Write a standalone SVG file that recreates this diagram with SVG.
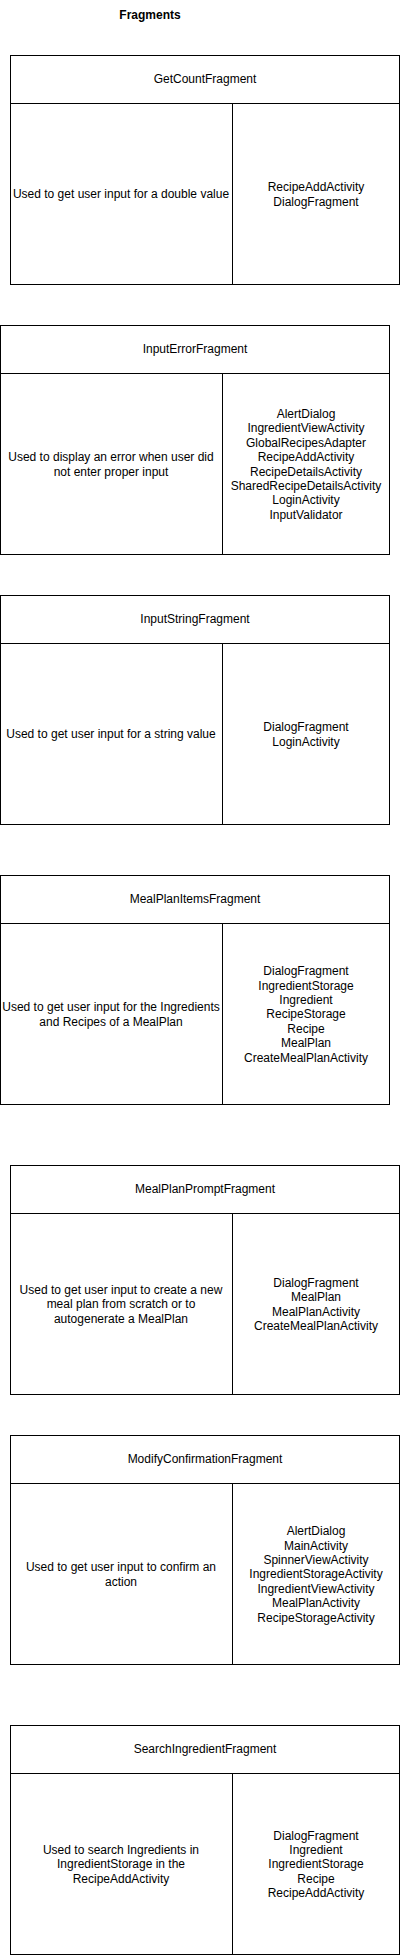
<svg xmlns="http://www.w3.org/2000/svg" width="401" height="1956" viewBox="0 0 401 1956">
<style>
.b{fill:#fff;stroke:#000;stroke-width:1}
.l{stroke:#000;stroke-width:1;fill:none}
text{font-family:"Liberation Sans",Arial,sans-serif;font-size:12px;fill:#000;text-anchor:middle}
.t{font-weight:bold}
</style>
<rect width="401" height="1956" fill="#fff"/>
<text class="t" x="150" y="19">Fragments</text>

<g id="GetCountFragment">
<rect class="b" x="10.5" y="55.5" width="389" height="229"/>
<line class="l" x1="10.5" y1="103.5" x2="399.5" y2="103.5"/>
<line class="l" x1="232.5" y1="103.5" x2="232.5" y2="284.5"/>
<text x="205" y="83.3">GetCountFragment</text>
<text x="121" y="198.3">Used to get user input for a double value</text>
<text y="191.1"><tspan x="316">RecipeAddActivity</tspan><tspan x="316" dy="14.4">DialogFragment</tspan></text>
</g>

<g id="InputErrorFragment">
<rect class="b" x="0.5" y="325.5" width="389" height="229"/>
<line class="l" x1="0.5" y1="373.5" x2="389.5" y2="373.5"/>
<line class="l" x1="222.5" y1="373.5" x2="222.5" y2="554.5"/>
<text x="195" y="353.3">InputErrorFragment</text>
<text y="461.1"><tspan x="111">Used to display an error when user did</tspan><tspan x="111" dy="14.4">not enter proper input</tspan></text>
<text y="417.9"><tspan x="306">AlertDialog</tspan><tspan x="306" dy="14.4">IngredientViewActivity</tspan><tspan x="306" dy="14.4">GlobalRecipesAdapter</tspan><tspan x="306" dy="14.4">RecipeAddActivity</tspan><tspan x="306" dy="14.4">RecipeDetailsActivity</tspan><tspan x="306" dy="14.4">SharedRecipeDetailsActivity</tspan><tspan x="306" dy="14.4">LoginActivity</tspan><tspan x="306" dy="14.4">InputValidator</tspan></text>
</g>

<g id="InputStringFragment">
<rect class="b" x="0.5" y="595.5" width="389" height="229"/>
<line class="l" x1="0.5" y1="643.5" x2="389.5" y2="643.5"/>
<line class="l" x1="222.5" y1="643.5" x2="222.5" y2="824.5"/>
<text x="195" y="623.3">InputStringFragment</text>
<text x="111" y="738.3">Used to get user input for a string value</text>
<text y="731.1"><tspan x="306">DialogFragment</tspan><tspan x="306" dy="14.4">LoginActivity</tspan></text>
</g>

<g id="MealPlanItemsFragment">
<rect class="b" x="0.5" y="875.5" width="389" height="229"/>
<line class="l" x1="0.5" y1="923.5" x2="389.5" y2="923.5"/>
<line class="l" x1="222.5" y1="923.5" x2="222.5" y2="1104.5"/>
<text x="195" y="903.3">MealPlanItemsFragment</text>
<text y="1011.1"><tspan x="111">Used to get user input for the Ingredients</tspan><tspan x="111" dy="14.4">and Recipes of a MealPlan</tspan></text>
<text y="975.1"><tspan x="306">DialogFragment</tspan><tspan x="306" dy="14.4">IngredientStorage</tspan><tspan x="306" dy="14.4">Ingredient</tspan><tspan x="306" dy="14.4">RecipeStorage</tspan><tspan x="306" dy="14.4">Recipe</tspan><tspan x="306" dy="14.4">MealPlan</tspan><tspan x="306" dy="14.4">CreateMealPlanActivity</tspan></text>
</g>

<g id="MealPlanPromptFragment">
<rect class="b" x="10.5" y="1165.5" width="389" height="229"/>
<line class="l" x1="10.5" y1="1213.5" x2="399.5" y2="1213.5"/>
<line class="l" x1="232.5" y1="1213.5" x2="232.5" y2="1394.5"/>
<text x="205" y="1193.3">MealPlanPromptFragment</text>
<text y="1293.9"><tspan x="121">Used to get user input to create a new</tspan><tspan x="121" dy="14.4">meal plan from scratch or to</tspan><tspan x="121" dy="14.4">autogenerate a MealPlan</tspan></text>
<text y="1286.7"><tspan x="316">DialogFragment</tspan><tspan x="316" dy="14.4">MealPlan</tspan><tspan x="316" dy="14.4">MealPlanActivity</tspan><tspan x="316" dy="14.4">CreateMealPlanActivity</tspan></text>
</g>

<g id="ModifyConfirmationFragment">
<rect class="b" x="10.5" y="1435.5" width="389" height="229"/>
<line class="l" x1="10.5" y1="1483.5" x2="399.5" y2="1483.5"/>
<line class="l" x1="232.5" y1="1483.5" x2="232.5" y2="1664.5"/>
<text x="205" y="1463.3">ModifyConfirmationFragment</text>
<text y="1571.1"><tspan x="121">Used to get user input to confirm an</tspan><tspan x="121" dy="14.4">action</tspan></text>
<text y="1535.1"><tspan x="316">AlertDialog</tspan><tspan x="316" dy="14.4">MainActivity</tspan><tspan x="316" dy="14.4">SpinnerViewActivity</tspan><tspan x="316" dy="14.4">IngredientStorageActivity</tspan><tspan x="316" dy="14.4">IngredientViewActivity</tspan><tspan x="316" dy="14.4">MealPlanActivity</tspan><tspan x="316" dy="14.4">RecipeStorageActivity</tspan></text>
</g>

<g id="SearchIngredientFragment">
<rect class="b" x="10.5" y="1725.5" width="389" height="229"/>
<line class="l" x1="10.5" y1="1773.5" x2="399.5" y2="1773.5"/>
<line class="l" x1="232.5" y1="1773.5" x2="232.5" y2="1954.5"/>
<text x="205" y="1753.3">SearchIngredientFragment</text>
<text y="1853.9"><tspan x="121">Used to search Ingredients in</tspan><tspan x="121" dy="14.4">IngredientStorage in the</tspan><tspan x="121" dy="14.4">RecipeAddActivity</tspan></text>
<text y="1839.5"><tspan x="316">DialogFragment</tspan><tspan x="316" dy="14.4">Ingredient</tspan><tspan x="316" dy="14.4">IngredientStorage</tspan><tspan x="316" dy="14.4">Recipe</tspan><tspan x="316" dy="14.4">RecipeAddActivity</tspan></text>
</g>

<g id="connectors"/>
</svg>
